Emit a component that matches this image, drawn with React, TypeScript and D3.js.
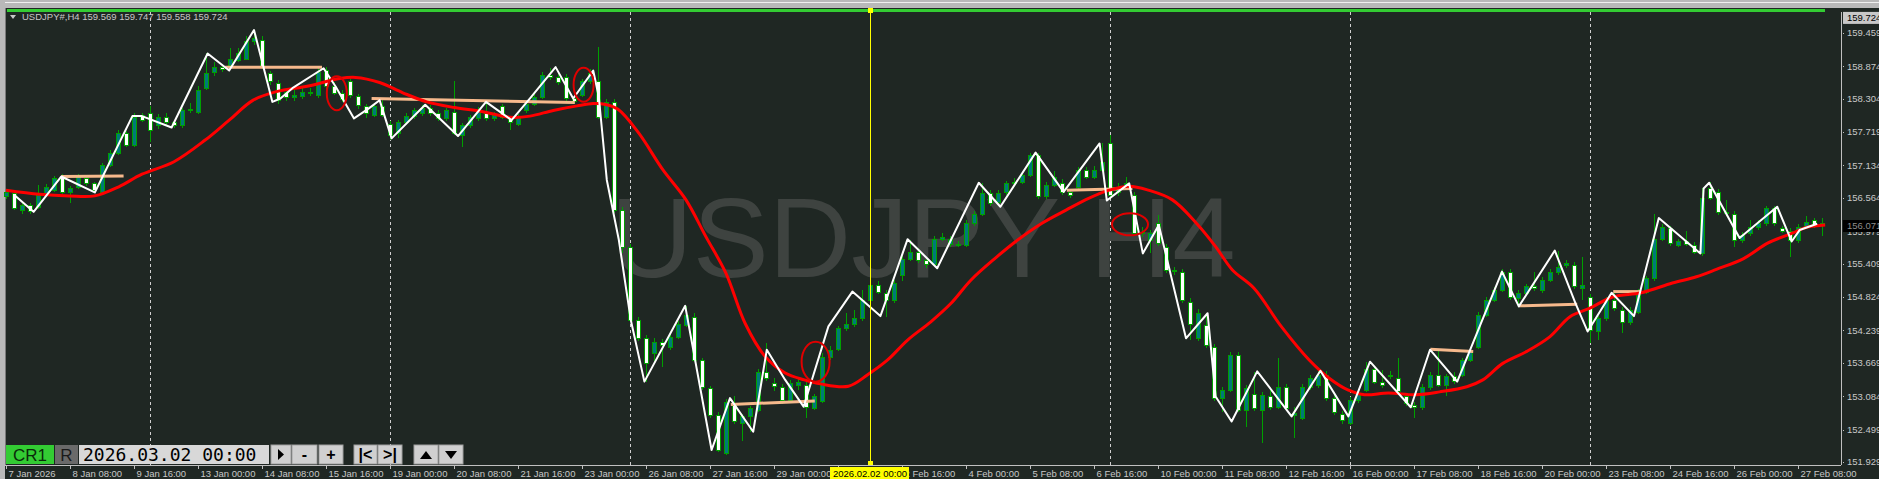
import React from "react";
import * as d3 from "d3";

// chart header / axis texts
const symbolName = "USDJPY#,H4";
const headerQuote = ["159.569", "159.747", "159.558", "159.724"];
const watermark = "USDJPY H4";
const cursorDate = "2026.03.02 00:00";
const vlineDate = "2026.02.02 00:00";
const vlineBar = 108;
const bidPrice = 159.724;
const markPrice = 156.071;

const timeLabels = [
  "7 Jan 2026", "8 Jan 08:00", "9 Jan 16:00", "13 Jan 00:00", "14 Jan 08:00", "15 Jan 16:00",
  "19 Jan 00:00", "20 Jan 08:00", "21 Jan 16:00", "23 Jan 00:00", "26 Jan 08:00", "27 Jan 16:00",
  "29 Jan 00:00", "30 Jan 08:00", "2 Feb 16:00", "4 Feb 00:00", "5 Feb 08:00", "6 Feb 16:00",
  "10 Feb 00:00", "11 Feb 08:00", "12 Feb 16:00", "16 Feb 00:00", "17 Feb 08:00", "18 Feb 16:00",
  "20 Feb 00:00", "23 Feb 08:00", "24 Feb 16:00", "26 Feb 00:00", "27 Feb 08:00",
];
const barsPerLabel = 8;
const weekStarts = [18, 48, 78, 108, 138, 168, 198];

const priceTicks = [
  159.459, 158.874, 158.304, 157.719, 157.134, 156.564, 155.979,
  155.409, 154.824, 154.239, 153.669, 153.084, 152.499, 151.929,
];

// H4 candles, [open, high, low, close]
const candles = [
  [156.59, 156.72, 156.55, 156.67], [156.65, 156.70, 156.35, 156.38], [156.35, 156.47, 156.29, 156.44], [156.44, 156.47, 156.28, 156.33],
  [156.41, 156.79, 156.37, 156.62], [156.62, 156.80, 156.58, 156.76], [156.70, 156.95, 156.66, 156.91], [156.94, 156.99, 156.64, 156.67],
  [156.66, 156.78, 156.47, 156.73], [156.76, 156.98, 156.72, 156.94], [156.91, 156.96, 156.78, 156.82], [156.82, 156.85, 156.65, 156.70],
  [156.67, 157.18, 156.64, 157.14], [157.14, 157.40, 157.10, 157.35], [157.35, 157.75, 157.31, 157.70], [157.70, 157.74, 157.45, 157.49],
  [157.49, 158.05, 157.45, 157.99], [158.02, 158.06, 157.90, 157.93], [158.05, 158.17, 157.55, 157.76], [157.84, 158.03, 157.78, 157.99],
  [157.99, 158.05, 157.85, 157.90], [157.90, 157.94, 157.79, 157.84], [157.84, 158.15, 157.80, 158.11], [158.11, 158.23, 158.05, 158.12],
  [158.08, 158.52, 158.04, 158.46], [158.49, 159.10, 158.45, 158.75], [158.78, 158.95, 158.70, 158.87], [158.87, 158.92, 158.78, 158.82],
  [158.90, 159.19, 158.85, 159.01], [158.99, 159.20, 158.95, 159.10], [159.01, 159.40, 158.98, 159.31], [159.31, 159.51, 159.25, 159.37],
  [159.34, 159.40, 158.83, 158.87], [158.75, 158.80, 158.55, 158.61], [158.59, 158.63, 158.22, 158.28], [158.43, 158.48, 158.27, 158.34],
  [158.33, 158.45, 158.26, 158.37], [158.35, 158.49, 158.30, 158.43], [158.40, 158.50, 158.36, 158.42], [158.37, 158.84, 158.32, 158.78],
  [158.81, 158.86, 158.48, 158.52], [158.52, 158.60, 158.37, 158.41], [158.41, 158.46, 158.25, 158.30], [158.61, 158.65, 158.32, 158.37],
  [158.35, 158.39, 158.13, 158.20], [158.17, 158.22, 157.96, 158.05], [158.02, 158.22, 157.98, 158.17], [158.17, 158.28, 157.98, 158.02],
  [157.87, 157.92, 157.58, 157.67], [157.70, 157.94, 157.62, 157.90], [157.90, 158.05, 157.85, 158.00], [158.00, 158.15, 157.95, 158.10],
  [158.05, 158.20, 158.00, 158.15], [158.15, 158.20, 158.00, 158.05], [158.05, 158.10, 157.92, 157.96], [157.96, 158.15, 157.92, 158.11],
  [158.08, 158.61, 157.66, 157.70], [157.67, 157.88, 157.46, 157.84], [157.84, 158.02, 157.80, 157.98], [157.96, 158.16, 157.92, 158.11],
  [158.05, 158.25, 157.92, 157.96], [157.96, 158.08, 157.92, 158.02], [158.17, 158.22, 157.95, 157.99], [157.96, 158.00, 157.76, 157.90],
  [157.87, 158.04, 157.83, 157.99], [158.11, 158.27, 158.06, 158.22], [158.22, 158.38, 158.18, 158.34], [158.34, 158.78, 158.30, 158.72],
  [158.72, 158.84, 158.64, 158.69], [158.69, 158.75, 158.55, 158.60], [158.69, 158.74, 158.27, 158.31], [158.31, 158.36, 158.22, 158.27],
  [158.37, 158.66, 158.33, 158.61], [158.61, 158.82, 158.57, 158.75], [158.61, 159.21, 157.95, 157.99], [157.99, 158.30, 157.95, 158.25],
  [158.25, 158.30, 156.30, 156.35], [156.35, 156.40, 155.60, 155.70], [155.70, 155.75, 154.38, 154.42], [154.42, 154.47, 154.05, 154.10],
  [154.10, 154.15, 153.34, 153.66], [153.84, 154.10, 153.70, 154.04], [154.04, 154.08, 153.60, 153.98], [153.95, 154.18, 153.90, 154.13],
  [154.13, 154.40, 154.08, 154.36], [154.33, 154.67, 154.30, 154.51], [154.48, 154.55, 153.68, 153.72], [153.72, 153.76, 153.20, 153.25],
  [153.22, 153.27, 152.70, 152.75], [152.75, 152.80, 152.11, 152.14], [152.08, 153.03, 152.05, 152.99], [152.93, 153.08, 152.60, 152.64],
  [152.61, 152.78, 152.29, 152.73], [152.73, 152.92, 152.46, 152.87], [152.84, 153.56, 152.80, 153.51], [153.51, 154.01, 153.35, 153.40],
  [153.31, 153.40, 153.18, 153.26], [153.25, 153.30, 152.95, 153.02], [153.02, 153.36, 152.98, 153.31], [153.28, 153.40, 153.20, 153.33],
  [153.28, 153.35, 152.70, 152.90], [152.88, 153.12, 152.84, 153.08], [153.00, 153.84, 152.96, 153.78], [153.78, 153.96, 153.72, 153.90],
  [153.92, 154.32, 153.88, 154.28], [154.28, 154.55, 154.22, 154.36], [154.36, 154.60, 154.30, 154.45], [154.45, 154.95, 154.40, 154.77],
  [154.77, 155.08, 154.72, 155.04], [155.04, 155.10, 154.88, 154.92], [154.89, 154.95, 154.48, 154.77], [154.77, 155.12, 154.72, 155.07],
  [155.21, 155.55, 155.10, 155.50], [155.50, 155.83, 155.45, 155.62], [155.62, 155.68, 155.42, 155.47], [155.47, 155.52, 155.33, 155.41],
  [155.41, 155.90, 155.37, 155.85], [155.85, 155.95, 155.80, 155.88], [155.75, 155.90, 155.70, 155.85], [155.74, 155.80, 155.70, 155.76],
  [155.74, 156.17, 155.70, 156.12], [156.12, 156.34, 156.08, 156.29], [156.29, 156.83, 156.25, 156.65], [156.65, 156.70, 156.43, 156.47],
  [156.50, 156.70, 156.44, 156.65], [156.66, 156.86, 156.62, 156.82], [156.82, 156.92, 156.78, 156.85], [156.85, 157.02, 156.81, 156.97],
  [156.97, 157.35, 156.93, 157.32], [157.32, 157.36, 156.55, 156.59], [156.59, 156.84, 156.55, 156.79], [156.79, 157.03, 156.75, 156.94],
  [156.82, 156.90, 156.62, 156.67], [156.67, 156.72, 156.56, 156.62], [156.76, 157.10, 156.72, 157.06], [157.05, 157.10, 156.90, 156.94],
  [156.94, 157.12, 156.90, 157.06], [157.06, 157.52, 157.02, 157.20], [157.52, 157.67, 156.58, 156.62], [156.67, 156.82, 156.60, 156.76],
  [156.76, 156.94, 156.70, 156.82], [156.62, 156.66, 155.90, 155.94], [155.94, 156.05, 155.88, 155.97], [155.83, 156.00, 155.59, 155.94],
  [156.12, 156.27, 155.72, 155.77], [155.71, 155.76, 155.25, 155.30], [155.30, 155.35, 155.22, 155.28], [155.27, 155.32, 154.72, 154.77],
  [154.74, 154.80, 154.07, 154.36], [154.10, 154.62, 154.05, 154.55], [154.33, 154.54, 153.93, 153.98], [153.95, 154.00, 153.00, 153.05],
  [153.05, 153.24, 152.81, 153.19], [153.19, 153.86, 153.15, 153.81], [153.81, 153.86, 152.80, 152.84], [152.84, 153.28, 152.55, 153.22],
  [153.13, 153.51, 152.82, 152.87], [152.84, 153.15, 152.26, 153.10], [153.08, 153.20, 152.85, 152.90], [152.90, 153.75, 152.86, 153.25],
  [153.25, 153.30, 152.82, 152.87], [152.75, 152.90, 152.35, 152.79], [152.70, 153.30, 152.66, 153.25], [153.25, 153.45, 153.20, 153.40],
  [153.28, 153.53, 153.22, 153.46], [153.46, 153.52, 153.00, 153.05], [153.05, 153.10, 152.76, 152.81], [152.78, 152.82, 152.60, 152.67],
  [152.61, 153.07, 152.58, 153.02], [153.02, 153.18, 152.97, 153.13], [153.19, 153.69, 153.15, 153.57], [153.57, 153.62, 153.30, 153.34],
  [153.34, 153.54, 153.22, 153.28], [153.46, 153.52, 153.38, 153.43], [153.40, 153.75, 153.12, 153.17], [153.08, 153.13, 152.91, 152.96],
  [152.93, 152.98, 152.70, 152.90], [152.90, 153.30, 152.85, 153.25], [153.25, 153.50, 153.20, 153.46], [153.46, 153.90, 153.24, 153.28],
  [153.28, 153.48, 153.08, 153.43], [153.43, 153.50, 153.30, 153.35], [153.46, 153.76, 153.42, 153.72], [153.72, 153.95, 153.68, 153.90],
  [153.95, 154.56, 153.91, 154.51], [154.51, 154.82, 154.47, 154.77], [154.77, 155.00, 154.73, 154.95], [154.95, 155.31, 154.91, 155.27],
  [155.27, 155.32, 154.78, 154.83], [154.80, 154.95, 154.66, 154.89], [154.89, 155.06, 154.85, 155.01], [155.01, 155.27, 154.93, 154.98],
  [154.95, 155.17, 154.90, 155.12], [155.12, 155.32, 155.08, 155.27], [155.27, 155.64, 155.22, 155.36], [155.39, 155.47, 155.34, 155.42],
  [155.39, 155.44, 154.96, 155.01], [154.98, 155.53, 154.77, 155.04], [154.83, 154.88, 154.01, 154.25], [154.22, 154.50, 154.07, 154.45],
  [154.45, 154.82, 154.40, 154.77], [154.77, 154.95, 154.58, 154.63], [154.60, 154.65, 154.19, 154.39], [154.39, 154.65, 154.34, 154.60],
  [154.57, 154.97, 154.53, 154.92], [154.92, 155.20, 154.88, 155.15], [155.15, 156.28, 155.10, 155.85], [155.85, 156.11, 155.80, 156.06],
  [156.03, 156.08, 155.72, 155.77], [155.74, 155.85, 155.70, 155.80], [155.80, 155.99, 155.72, 155.76], [155.74, 155.79, 155.58, 155.62],
  [155.59, 156.73, 155.55, 156.56], [156.73, 156.85, 156.52, 156.56], [156.67, 156.72, 156.27, 156.32], [156.32, 156.53, 156.25, 156.30],
  [156.28, 156.33, 155.71, 155.83], [155.83, 155.97, 155.78, 155.92], [155.94, 156.18, 155.90, 156.06], [156.06, 156.18, 156.00, 156.12],
  [156.12, 156.43, 156.08, 156.38], [156.38, 156.43, 156.08, 156.12], [156.03, 156.08, 155.95, 155.99], [155.99, 156.04, 155.53, 155.83],
  [155.83, 156.11, 155.78, 156.06], [156.06, 156.24, 156.01, 156.15], [156.17, 156.22, 156.04, 156.09], [156.09, 156.21, 155.89, 156.13],
];

// white swing line, [bar, price]
const swingLine = [
  [1, 156.62], [3.45, 156.32], [6.9, 156.94], [11.1, 156.66], [15.8, 158.0], [17, 158.0], [20.7, 157.8],
  [25.2, 159.1], [27.9, 158.8], [31, 159.51], [33.3, 158.25], [34.3, 158.31], [35.8, 158.49], [39.7, 158.84],
  [41.2, 158.52], [43.5, 157.96], [45.4, 158.14], [46.7, 158.28], [48.2, 157.61], [52.4, 158.2], [56.5, 157.65],
  [60, 158.25], [63.2, 157.93], [65.5, 158.31], [68.7, 158.86], [70.9, 158.31], [73.4, 158.8], [74.1, 158.34],
  [75.1, 156.88], [76.6, 155.83], [78.1, 154.42], [79.8, 153.34], [84.9, 154.67], [88.2, 152.14], [90.5, 153.05],
  [93.4, 152.46], [95.1, 153.9], [97.4, 153.37], [99.7, 152.9], [102.8, 154.31], [105.8, 154.92], [109.3, 154.49],
  [112.7, 155.84], [116.4, 155.33], [121.6, 156.83], [124.3, 156.41], [128.7, 157.36], [132.2, 156.67], [136.7, 157.52],
  [137.6, 156.52], [140.4, 156.82], [142.1, 155.59], [144.1, 156.09], [147.5, 154.1], [150.2, 154.54], [151.2, 153.08],
  [153.2, 152.64], [156.4, 153.52], [160.7, 152.73], [164.3, 153.53], [167.8, 152.73], [170.5, 153.69], [175.6, 152.89],
  [178, 153.9], [181.4, 153.34], [187, 155.27], [189.1, 154.66], [193.6, 155.64], [196.2, 154.71], [197.7, 154.22],
  [200.7, 154.9], [203.5, 154.49], [206.6, 156.21], [211.8, 155.59], [212.2, 156.73], [212.9, 156.83], [216.7, 155.86],
  [221.4, 156.41], [223.2, 155.8], [224.2, 156.0], [226.4, 156.11],
];

// red moving average, [bar, price]
const maLine = [
  [0, 156.7], [4.2, 156.63], [7.9, 156.6], [11.1, 156.6], [14.1, 156.76], [17, 156.98], [21, 157.2], [24.9, 157.58],
  [27.9, 157.93], [30.9, 158.28], [33.8, 158.43], [37.8, 158.53], [41.7, 158.66], [43.7, 158.68], [46.7, 158.59],
  [49.6, 158.41], [52.6, 158.25], [56.1, 158.15], [59.5, 158.08], [63, 157.98], [65.5, 158.0], [68.4, 158.1],
  [71.4, 158.18], [73.4, 158.22], [74.8, 158.21], [76.5, 158.12], [79.1, 157.7], [82.1, 157.06], [85, 156.53],
  [87.5, 155.88], [90, 155.24], [92.4, 154.36], [94.9, 153.78], [97.4, 153.49], [99.8, 153.37], [101.8, 153.3],
  [105.3, 153.26], [107.7, 153.46], [110.2, 153.72], [112.7, 154.07], [115.6, 154.39], [118.1, 154.71], [120.6, 155.12],
  [123.6, 155.5], [126.5, 155.83], [129.5, 156.12], [132.5, 156.35], [135.4, 156.56], [137.9, 156.7], [140.4, 156.77],
  [142.8, 156.7], [145.8, 156.53], [148.8, 156.12], [151.2, 155.71], [153.3, 155.3], [156, 154.98], [159.4, 154.31],
  [162.9, 153.72], [165.4, 153.4], [167.8, 153.19], [169.8, 153.11], [172.8, 153.14], [176.2, 153.11], [179.2, 153.16],
  [182.6, 153.25], [184.6, 153.37], [187.1, 153.66], [190.1, 153.87], [193, 154.13], [195.5, 154.48], [198, 154.63],
  [200.9, 154.83], [204.4, 154.9], [208.3, 155.07], [211.3, 155.18], [213.8, 155.31], [217.2, 155.5], [220.2, 155.77],
  [223.2, 155.94], [225.1, 156.05], [227.4, 156.09],
];

// peach level segments, [bar0, price0, bar1, price1]
const levels = [
  [6.9, 156.94, 14.7, 156.95], [27.4, 158.86, 39.5, 158.86], [45.7, 158.31, 71.1, 158.24],
  [90.6, 152.94, 101.1, 153.0], [132.6, 156.7, 140.8, 156.73], [178.05, 153.91, 183.4, 153.87],
  [189.1, 154.67, 196.4, 154.7], [200.9, 154.92, 204.4, 154.92],
];

// red ring marks, [bar, price]
const rings = [[41.35, 158.4], [72.2, 158.55], [101.2, 153.69], [140.5, 156.1]];

const W = 1879;
const H = 479;
const BG = "#1f2723";
const AXIS_TXT = "#c8c8c8";
const FONT = "'Liberation Sans', Arial, sans-serif";
const ringRadius = [[10, 17], [10, 17], [14, 20], [18, 11]];

const App = () => {
  const plotLeft = 5;
  const plotRight = 1841;
  const plotBottom = 465;

  const x = d3.scaleLinear().domain([0, 1]).range([6, 14]);
  const y = d3.scaleLinear().domain([151.929, 159.459]).range([462, 33]);

  const swingPath = d3.line().x((d) => x(d[0])).y((d) => y(d[1]))(swingLine as any);
  const maPath = d3
    .line()
    .x((d) => x(d[0]))
    .y((d) => y(d[1]))
    .curve(d3.curveCatmullRom.alpha(0.5))(maLine as any);

  const buttons = [
    { x: 271, w: 20, label: "play" },
    { x: 292, w: 25, label: "-" },
    { x: 319, w: 24, label: "+" },
    { x: 354, w: 23, label: "|<" },
    { x: 378, w: 24, label: ">|" },
    { x: 414, w: 24, label: "up" },
    { x: 439, w: 24, label: "down" },
  ];

  const vx = Math.round(x(vlineBar)) + 0.5;

  return (
    <svg width={W} height={H} style={{ position: "absolute", left: 0, top: 0, display: "block" }} fontFamily={FONT}>
      <rect x={0} y={0} width={W} height={H} fill={BG} />
      {/* window frame */}
      <rect x={0} y={0} width={W} height={8} fill="#b9b9b9" />
      <rect x={0} y={2} width={W} height={1} fill="#f0f0f0" />
      <rect x={0} y={0} width={plotLeft} height={H} fill="#b9b9b9" />
      <rect x={plotLeft} y={8} width={1} height={plotBottom - 8} fill="#7a7a7a" />
      <rect x={7} y={9} width={1818} height={3} fill="#33cc33" />

      {/* week separators */}
      {weekStarts.map((b) => (
        <line key={"w" + b} x1={Math.round(x(b)) + 0.5} x2={Math.round(x(b)) + 0.5} y1={12} y2={plotBottom}
          stroke="#d0d0d0" strokeWidth={1} strokeDasharray="3,3" />
      ))}

      {/* watermark */}
      <text x={(plotLeft + plotRight) / 2} y={277} textAnchor="middle" fontSize={114} fill="#3e4340">{watermark}</text>

      {/* candles */}
      {candles.map((c, i) => {
        const [o, h, l, cl] = c;
        const cx = Math.round(x(i));
        const top = Math.round(y(Math.max(o, cl)));
        const bot = Math.round(y(Math.min(o, cl)));
        const bull = cl >= o;
        return (
          <g key={"c" + i}>
            <line x1={cx + 0.5} x2={cx + 0.5} y1={Math.round(y(h))} y2={Math.round(y(l))} stroke="#00a000" strokeWidth={1} />
            <rect x={cx - 1.5} y={top + 0.5} width={4} height={Math.max(1, bot - top)}
              fill={bull ? "#007a78" : "#ffffff"} stroke="#00a000" strokeWidth={1} />
          </g>
        );
      })}

      {/* levels */}
      {levels.map((s, i) => (
        <line key={"lv" + i} x1={x(s[0])} y1={y(s[1])} x2={x(s[2])} y2={y(s[3])} stroke="#f6b98c" strokeWidth={3} />
      ))}

      <path d={maPath || ""} fill="none" stroke="#ff0000" strokeWidth={3} />
      <path d={swingPath || ""} fill="none" stroke="#ffffff" strokeWidth={2} strokeLinejoin="round" />

      {rings.map((r, i) => (
        <ellipse key={"r" + i} cx={x(r[0])} cy={y(r[1])} rx={ringRadius[i][0]} ry={ringRadius[i][1]}
          fill="none" stroke="#e00000" strokeWidth={2} />
      ))}

      {/* vertical date line */}
      <line x1={vx} x2={vx} y1={10} y2={plotBottom - 1} stroke="#ffff00" strokeWidth={1} />
      <rect x={vx - 2.5} y={8} width={5} height={5} fill="#ffff00" />
      <rect x={vx - 2.5} y={plotBottom - 4} width={5} height={5} fill="#ffff00" />

      {/* header */}
      <path d="M10,15 L16,15 L13,19 Z" fill="#c8c8c8" />
      <text x={22} y={20} fontSize={9.5} fill={AXIS_TXT}>
        {symbolName + "  " + headerQuote.join(" ")}
      </text>

      {/* frame lines */}
      <line x1={plotLeft} x2={plotRight} y1={plotBottom + 0.5} y2={plotBottom + 0.5} stroke="#c0c0c0" />
      <line x1={plotRight + 0.5} x2={plotRight + 0.5} y1={12} y2={plotBottom} stroke="#c0c0c0" />

      {/* price axis */}
      {priceTicks.map((p) => (
        <g key={"p" + p}>
          <rect x={plotRight + 2} y={Math.round(y(p))} width={1} height={1} fill="#c0c0c0" />
          <text x={plotRight + 6} y={y(p)} dy="0.35em" fontSize={9.5} fill={AXIS_TXT}>{p.toFixed(3)}</text>
        </g>
      ))}
      <rect x={plotRight + 2} y={y(markPrice) - 6} width={W - plotRight} height={12} fill="#000000" />
      <text x={plotRight + 6} y={y(markPrice)} dy="0.35em" fontSize={9.5} fill="#8c8c8c">{markPrice.toFixed(3)}</text>
      <rect x={plotRight + 2} y={y(bidPrice) - 6} width={W - plotRight} height={12} fill="#c8c8c8" />
      <text x={plotRight + 6} y={y(bidPrice)} dy="0.35em" fontSize={9.5} fill="#000000">{bidPrice.toFixed(3)}</text>

      {/* time axis */}
      {timeLabels.map((t, i) => {
        const tx = Math.round(x(i * barsPerLabel)) + 0.5;
        return (
          <g key={"t" + i}>
            <line x1={tx} x2={tx} y1={plotBottom} y2={plotBottom + 4} stroke="#c0c0c0" />
            <text x={tx + 2} y={477} fontSize={9.5} fill={AXIS_TXT}>{t}</text>
          </g>
        );
      })}
      <rect x={830} y={467} width={79} height={12} fill="#ffff00" />
      <text x={833} y={477} fontSize={9.5} fill="#000000">{vlineDate}</text>

      {/* navigation panel */}
      <rect x={6} y={445} width={48} height={19} fill="#33cc33" />
      <text x={30} y={461} textAnchor="middle" fontSize={17} fill="#0a2a0a">CR1</text>
      <rect x={55} y={445} width={23} height={19} fill="#6a6a6a" />
      <text x={66.5} y={461} textAnchor="middle" fontSize={17} fill="#1a1a1a">R</text>
      <rect x={79} y={445} width={190} height={19} fill="#d8d8d8" />
      <text x={83} y={461} fontSize={18} fontFamily="'DejaVu Sans Mono', 'Liberation Mono', monospace" fill="#000000">{cursorDate}</text>
      {buttons.map((b) => (
        <g key={b.label}>
          <rect x={b.x} y={445} width={b.w} height={19} fill="#d0d0d0" stroke="#a0a0a0" strokeWidth={1} />
          {b.label === "play" && <path d={`M${b.x + 7},449 L${b.x + 13},454.5 L${b.x + 7},460 Z`} fill="#000" />}
          {b.label === "up" && <path d={`M${b.x + 6},459 L${b.x + 18},459 L${b.x + 12},451 Z`} fill="#000" />}
          {b.label === "down" && <path d={`M${b.x + 6},451 L${b.x + 18},451 L${b.x + 12},459 Z`} fill="#000" />}
          {(b.label === "-" || b.label === "+" || b.label === "|<" || b.label === ">|") && (
            <text x={b.x + b.w / 2} y={460} textAnchor="middle" fontSize={16} fontWeight="bold" fill="#000">{b.label}</text>
          )}
        </g>
      ))}
    </svg>
  );
};

export default App;
